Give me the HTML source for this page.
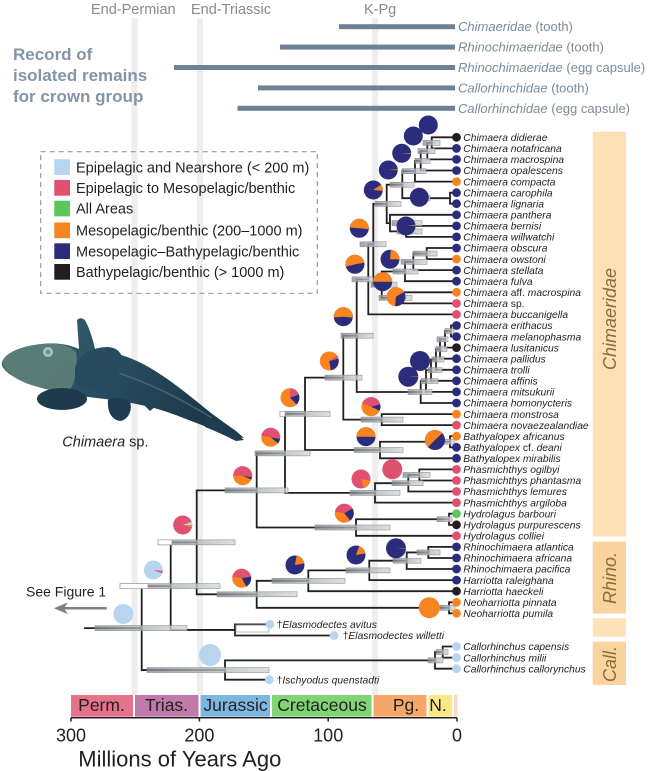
<!DOCTYPE html>
<html><head><meta charset="utf-8"><style>
html,body{margin:0;padding:0;background:#fff;}
svg{display:block;font-family:"Liberation Sans",Arial,sans-serif;}
</style></head><body>
<svg width="649" height="771" viewBox="0 0 649 771" xmlns="http://www.w3.org/2000/svg">
<defs>
<linearGradient id="gb" x1="0" y1="0" x2="1" y2="0">
<stop offset="0" stop-color="#868b90"/><stop offset="0.35" stop-color="#a6aaae"/><stop offset="1" stop-color="#d4d7d9"/>
</linearGradient>
<linearGradient id="fishg" x1="0" y1="0" x2="1" y2="0.4">
<stop offset="0" stop-color="#3c6470"/><stop offset="0.5" stop-color="#2a4f62"/><stop offset="1" stop-color="#1c394b"/>
</linearGradient>
</defs>
<rect width="649" height="771" fill="#fff"/>

<!-- extinction bands -->
<rect x="131.5" y="18" width="6" height="677" fill="#eeeeee"/>
<rect x="197" y="18" width="6" height="677" fill="#eeeeee"/>
<rect x="372" y="18" width="6" height="677" fill="#eeeeee"/>

<!-- top labels -->
<g font-size="14.5" fill="#8a8a8a">
<text x="91" y="14">End-Permian</text>
<text x="191" y="14">End-Triassic</text>
<text x="364" y="14">K-Pg</text>
</g>

<g font-size="17" font-weight="bold" fill="#8296a8">
<text x="13" y="60">Record of</text>
<text x="13" y="81">isolated remains</text>
<text x="13" y="102">for crown group</text>
</g>

<!-- fossil bars -->
<g fill="#6d8294">
<rect x="339" y="24.2" width="116" height="5"/>
<rect x="280" y="44.6" width="175" height="5"/>
<rect x="174" y="65" width="281" height="5"/>
<rect x="258" y="85.4" width="197" height="5"/>
<rect x="237.5" y="105.8" width="217.5" height="5"/>
</g>
<g font-size="13" fill="#7d8b97">
<text x="458" y="31.2"><tspan font-style="italic">Chimaeridae</tspan> (tooth)</text>
<text x="458" y="51.6"><tspan font-style="italic">Rhinochimaeridae</tspan> (tooth)</text>
<text x="458" y="72"><tspan font-style="italic">Rhinochimaeridae</tspan> (egg capsule)</text>
<text x="458" y="92.4"><tspan font-style="italic">Callorhinchidae</tspan> (tooth)</text>
<text x="458" y="112.8"><tspan font-style="italic">Callorhinchidae</tspan> (egg capsule)</text>
</g>

<!-- right clade bars -->
<rect x="592.7" y="131.7" width="33.3" height="404.8" fill="#fde0b6"/>
<rect x="592.7" y="541.7" width="33.3" height="71.8" fill="#fbd39d"/>
<rect x="592.7" y="618.3" width="33.3" height="18.4" fill="#fde2ba"/>
<rect x="592.7" y="641.7" width="33.3" height="43.3" fill="#fbd39d"/>
<g font-size="18" font-style="italic" fill="#8b6b3c" text-anchor="middle">
<text transform="translate(616,319) rotate(-90)">Chimaeridae</text>
<text transform="translate(616,578) rotate(-90)">Rhino.</text>
<text transform="translate(616,664) rotate(-90)">Call.</text>
</g>

<!-- legend -->
<rect x="40.7" y="151.7" width="276.6" height="141.6" fill="none" stroke="#9a9a9a" stroke-width="1.2" stroke-dasharray="5 4"/>
<rect x="54.3" y="159.3" width="15.7" height="15.7" fill="#b7d5ef"/>
<rect x="54.3" y="180" width="15.7" height="15.7" fill="#e0506f"/>
<rect x="54.3" y="200.7" width="15.7" height="15.7" fill="#5dc65b"/>
<rect x="54.3" y="222.5" width="15.7" height="15.7" fill="#f7841f"/>
<rect x="54.3" y="243.3" width="15.7" height="15.7" fill="#2b2d7c"/>
<rect x="54.3" y="264" width="15.7" height="15.7" fill="#231f20"/>
<g font-size="14.5" fill="#231f20">
<text x="76" y="172.3">Epipelagic and Nearshore (&lt; 200 m)</text>
<text x="76" y="193">Epipelagic to Mesopelagic/benthic</text>
<text x="76" y="213.7">All Areas</text>
<text x="76" y="235.5">Mesopelagic/benthic (200–1000 m)</text>
<text x="76" y="256.3">Mesopelagic–Bathypelagic/benthic</text>
<text x="76" y="277">Bathypelagic/benthic (&gt; 1000 m)</text>
</g>

<!-- fish -->
<g>
<path d="M2,362 C6,352 22,346 42,344 C58,342 70,345 79,349 L77,320 C80,317 84,318 86,322 C90,330 93,340 95,349 C112,351 132,357 152,369 C172,381 190,396 206,409 C216,417 226,424 236,431 L244,438 C236,437 228,434 219,431 C205,427 190,420 170,413 C150,406 128,402 105,399 C85,397 62,393 42,388 C26,384 12,377 6,371 C3,368 1,365 2,362 Z" fill="url(#fishg)"/>
<path d="M2,362 C6,352 22,346 42,344 C58,342 70,346 76,352 C78,365 76,380 70,390 C55,391 40,388 28,384 C15,379 6,372 2,362 Z" fill="#5f8279" opacity="0.85"/>
<path d="M95,366 C130,375 170,392 212,418" stroke="#4f7585" stroke-width="1.5" fill="none" opacity="0.7"/>
<ellipse cx="62" cy="399" rx="25" ry="11" fill="#1e3a4d"/>
<path d="M75,368 C78,355 92,347 108,347 C120,348 124,356 122,368 C119,378 108,385 95,389 C86,391 78,388 75,380 Z" fill="#264a5e"/>
<path d="M108,400 C112,397 126,398 130,402 C133,410 128,420 120,421 C112,420 107,412 108,400 Z" fill="#1f3c50"/>
<path d="M140,401 L156,406 L150,411 Z" fill="#22405a"/>
<path d="M205,418 C215,418 225,424 232,430 L244,440 L236,441 C228,437 218,432 205,427 Z" fill="#1f3d52"/>
<circle cx="48" cy="352" r="5" fill="#a3c0c6"/>
<circle cx="48" cy="352" r="2.3" fill="#6f8f99"/>
</g>
<text x="62.3" y="446.7" font-size="14.5" fill="#231f20"><tspan font-style="italic">Chimaera</tspan> sp.</text>

<!-- see figure 1 -->
<text x="26" y="596.7" font-size="14" fill="#231f20">See Figure 1</text>
<line x1="63" y1="608.3" x2="106.7" y2="608.3" stroke="#808080" stroke-width="2.5"/>
<path d="M54,608.3 L68,602.3 L64,608.3 L68,614.3 Z" fill="#808080"/>

<!-- tree branches -->
<path fill="none" stroke="#231f20" stroke-width="1.8" stroke-linecap="square" d="
M431.7 137.3H456.5 M431.7 148.4H456.5 M427.3 159.4H456.5 M420.7 170.5H456.5 M415 181.6H456.5 M450 192.7H456.5 M450 203.7H456.5 M390 214.8H456.5 M406 225.9H456.5 M406 236.9H456.5
M426.7 248H456.5 M426.7 259.1H456.5 M413.3 270.1H456.5 M405 281.2H456.5 M403 292.3H456.5 M403 303.4H456.5 M368.3 314.4H456.5
M451 325.5H456.5 M451 336.6H456.5 M445 347.6H456.5 M440 358.7H456.5 M436 369.8H456.5 M431 380.8H456.5 M426 391.9H456.5 M420.7 403H456.5
M381.7 414.1H456.5 M381.7 425.1H456.5 M450 436.2H456.5 M450 447.3H456.5 M380 458.3H456.5
M419.3 469.4H456.5 M419.3 480.5H456.5 M408.3 491.5H456.5 M375 502.6H456.5
M449 513.7H456.5 M449 524.8H456.5 M356 535.8H456.5
M428.3 546.9H456.5 M428.3 558H456.5 M406.7 569H456.5 M369.3 580.1H456.5 M308.3 591.2H456.5 M449 602.3H456.5 M449 613.3H456.5
M235 624.4H270 M235 635.5H334 M442.7 646.5H456.5 M442.7 657.6H456.5 M435 668.7H456.5 M225 679.7H269.3
M427.3 142.85H431.7 M420.7 151.1H427.3 M415 160.8H420.7 M402.3 171.2H415 M402.3 198.2H450 M386.7 184.7H402.3
M390 231.4H406 M386.7 223.1H390 M373.3 203.9H386.7
M413.3 253.55H426.7 M405 261.8H413.3 M381.7 271.5H405 M381.7 297.85H403 M373.3 284.7H381.7 M368.3 244.3H373.3 M356.7 279.35H368.3
M445 331.05H451 M440 339.3H445 M436 349H440 M431 359.4H436 M426 370.1H431 M420.7 381H426 M356.7 392H420.7
M343.3 335.7H356.7 M343.3 419.6H381.7 M305 377.65H343.3 M380 441.75H450 M305 450H380 M285 413.8H305
M408.3 474.95H419.3 M375 483.2H408.3 M285 492.9H375 M256.7 453.35H285
M356 519.25H449 M256.7 527.5H356 M196.7 490.4H256.7
M406.7 552.45H428.3 M369.3 560.7H406.7 M308.3 570.4H369.3 M256.7 580.8H308.3 M256.7 607.8H449 M196.7 594.3H256.7
M170.7 542.35H196.7 M170.7 629.95H235 M141.7 586.15H170.7
M435 652.05H442.7 M225 660.4H435 M141.7 670.05H225 M85 628.1H141.7
M431.7 137.3V148.4 M427.3 142.85V159.4 M420.7 151.1V170.5 M415 160.8V181.6 M450 192.7V203.7 M402.3 171.2V198.2
M406 225.9V236.9 M390 214.8V231.4 M386.7 184.7V223.1
M426.7 248V259.1 M413.3 253.55V270.1 M405 261.8V281.2 M403 292.3V303.4 M381.7 271.5V297.85 M373.3 203.9V284.7 M368.3 244.3V314.4
M451 325.5V336.6 M445 331.05V347.6 M440 339.3V358.7 M436 349V369.8 M431 359.4V380.8 M426 370.1V391.9 M420.7 381V403
M356.7 279.35V392 M381.7 414.1V425.1 M343.3 335.7V419.6 M450 436.2V447.3 M380 441.75V458.3 M305 377.65V450
M419.3 469.4V480.5 M408.3 474.95V491.5 M375 483.2V502.6 M285 413.8V492.9
M449 513.7V524.8 M356 519.25V535.8 M256.7 453.35V527.5
M428.3 546.9V558 M406.7 552.45V569 M369.3 560.7V580.1 M308.3 570.4V591.2 M449 602.3V613.3 M256.7 580.8V607.8
M196.7 490.4V594.3 M235 624.4V635.5 M170.7 542.35V629.95
M442.7 646.5V657.6 M435 652.05V668.7 M225 660.4V679.7 M141.7 586.15V670.05"/>

<!-- CI bars -->
<g fill="url(#gb)" fill-opacity="0.78" stroke="#8e9397" stroke-width="0.6">
<rect x="95" y="625.6" width="92" height="5"/>
<rect x="120" y="583.65" width="100" height="5"/>
<rect x="158" y="539.85" width="77" height="5"/>
<rect x="147" y="667.55" width="122" height="5"/>
<rect x="217" y="591.8" width="80" height="5"/>
<rect x="272" y="578.3" width="73" height="5"/>
<rect x="346" y="567.9" width="44" height="5"/>
<rect x="393" y="558.2" width="28" height="5"/>
<rect x="417" y="549.95" width="23" height="5"/>
<rect x="440" y="605.3" width="15" height="5"/>
<rect x="315" y="525" width="75" height="5"/>
<rect x="437" y="516.75" width="15" height="5"/>
<rect x="225" y="487.9" width="63" height="5"/>
<rect x="255" y="450.85" width="55" height="5"/>
<rect x="280" y="411.3" width="50" height="5"/>
<rect x="325" y="375.15" width="37" height="5"/>
<rect x="341" y="333.2" width="32" height="5"/>
<rect x="352" y="276.85" width="21" height="5"/>
<rect x="360" y="241.8" width="26" height="5"/>
<rect x="371" y="282.2" width="26" height="5"/>
<rect x="379" y="295.35" width="33" height="5"/>
<rect x="393" y="269" width="25" height="5"/>
<rect x="401" y="259.3" width="26" height="5"/>
<rect x="413" y="251.05" width="24" height="5"/>
<rect x="375" y="201.4" width="26" height="5"/>
<rect x="392" y="220.6" width="30" height="5"/>
<rect x="397" y="228.9" width="25" height="5"/>
<rect x="390" y="182.2" width="24" height="5"/>
<rect x="413" y="195.7" width="17" height="5"/>
<rect x="402" y="168.7" width="24" height="5"/>
<rect x="415" y="158.3" width="15" height="5"/>
<rect x="418" y="148.6" width="17" height="5"/>
<rect x="423" y="140.35" width="17" height="5"/>
<rect x="408" y="389.5" width="24" height="5"/>
<rect x="421" y="378.5" width="17" height="5"/>
<rect x="428" y="367.6" width="14" height="5"/>
<rect x="432" y="356.9" width="12" height="5"/>
<rect x="436" y="346.5" width="11" height="5"/>
<rect x="437" y="336.8" width="11" height="5"/>
<rect x="445" y="328.55" width="9" height="5"/>
<rect x="361" y="417.1" width="42" height="5"/>
<rect x="354" y="447.5" width="49" height="5"/>
<rect x="442" y="439.25" width="13" height="5"/>
<rect x="350" y="490.4" width="50" height="5"/>
<rect x="392" y="480.7" width="31" height="5"/>
<rect x="403" y="472.45" width="27" height="5"/>
<rect x="428" y="657.9" width="15" height="5"/>
<rect x="436" y="649.55" width="12" height="5"/>
</g>
<g fill="#fff" stroke="#9a9ea2" stroke-width="0.7">
<rect x="120" y="583.65" width="28" height="5"/>
<rect x="158" y="539.85" width="14" height="5"/>
<rect x="280" y="411.3" width="5" height="5"/>
<rect x="236" y="625" width="33" height="7" fill="none"/>
</g>

<!-- internal pies -->
<g>
<g transform="translate(428.3 125)"><circle r="9.5" fill="#2b2d7c"/></g>
<g transform="translate(413.3 136)"><circle r="9.5" fill="#2b2d7c"/></g>
<g transform="translate(401.7 153.3)"><circle r="9.5" fill="#2b2d7c"/><circle r="4.75" fill="none" stroke="#f7841f" stroke-width="9.5" stroke-dasharray="0.5 40" transform="rotate(-2)"/></g>
<g transform="translate(388.3 170)"><circle r="9.5" fill="#2b2d7c"/><circle r="4.75" fill="none" stroke="#f7841f" stroke-width="9.5" stroke-dasharray="0.5 40" transform="rotate(-5)"/></g>
<g transform="translate(373.3 190)"><circle r="9.5" fill="#2b2d7c"/><circle r="4.75" fill="none" stroke="#f7841f" stroke-width="9.5" stroke-dasharray="3.32 40" transform="rotate(-35)"/></g>
<g transform="translate(419.3 197.3)"><circle r="9.5" fill="#2b2d7c"/></g>
<g transform="translate(406 226)"><circle r="9.5" fill="#2b2d7c"/><circle r="4.75" fill="none" stroke="#f7841f" stroke-width="9.5" stroke-dasharray="0.41 40" transform="rotate(-5)"/></g>
<g transform="translate(359.3 228.3)"><circle r="9.5" fill="#2b2d7c"/><circle r="4.75" fill="none" stroke="#f7841f" stroke-width="9.5" stroke-dasharray="14.92 40" transform="rotate(185)"/></g>
<g transform="translate(390 259.3)"><circle r="9.5" fill="#2b2d7c"/><circle r="4.75" fill="none" stroke="#f7841f" stroke-width="9.5" stroke-dasharray="7.05 40" transform="rotate(-85)"/></g>
<g transform="translate(355 264.3)"><circle r="9.5" fill="#2b2d7c"/><circle r="4.75" fill="none" stroke="#f7841f" stroke-width="9.5" stroke-dasharray="15.34 40" transform="rotate(165)"/></g>
<g transform="translate(382.7 281.7)"><circle r="9.5" fill="#2b2d7c"/><circle r="4.75" fill="none" stroke="#f7841f" stroke-width="9.5" stroke-dasharray="14.92 40" transform="rotate(180)"/></g>
<g transform="translate(396 296.7)"><circle r="9.5" fill="#f7841f"/><circle r="4.75" fill="none" stroke="#2b2d7c" stroke-width="9.5" stroke-dasharray="10.36 40" transform="rotate(-30)"/></g>
<g transform="translate(343.3 316.7)"><circle r="9.5" fill="#2b2d7c"/><circle r="4.75" fill="none" stroke="#f7841f" stroke-width="9.5" stroke-dasharray="15.75 40" transform="rotate(175)"/></g>
<g transform="translate(329.3 361)"><circle r="9.5" fill="#f7841f"/><circle r="4.75" fill="none" stroke="#2b2d7c" stroke-width="9.5" stroke-dasharray="7.88 40" transform="rotate(-15)"/><circle r="4.75" fill="none" stroke="#e0506f" stroke-width="9.5" stroke-dasharray="1.66 40" transform="rotate(-35)"/></g>
<g transform="translate(420 361)"><circle r="10" fill="#2b2d7c"/></g>
<g transform="translate(408.3 376.7)"><circle r="10" fill="#2b2d7c"/><circle r="5" fill="none" stroke="#f7841f" stroke-width="10" stroke-dasharray="0.35 40" transform="rotate(-2)"/></g>
<g transform="translate(290 397.7)"><circle r="9.5" fill="#f7841f"/><circle r="4.75" fill="none" stroke="#e0506f" stroke-width="9.5" stroke-dasharray="5.8 40" transform="rotate(-90)"/><circle r="4.75" fill="none" stroke="#2b2d7c" stroke-width="9.5" stroke-dasharray="5.39 40" transform="rotate(-20)"/></g>
<g transform="translate(371 406.7)"><circle r="9.5" fill="#f7841f"/><circle r="4.75" fill="none" stroke="#e0506f" stroke-width="9.5" stroke-dasharray="12.02 40" transform="rotate(200)"/><circle r="4.75" fill="none" stroke="#2b2d7c" stroke-width="9.5" stroke-dasharray="3.32 40" transform="rotate(-15)"/></g>
<g transform="translate(366 436.7)"><circle r="9.5" fill="#2b2d7c"/><circle r="4.75" fill="none" stroke="#f7841f" stroke-width="9.5" stroke-dasharray="14.92 40" transform="rotate(180)"/></g>
<g transform="translate(435 440)"><circle r="10" fill="#2b2d7c"/><circle r="5" fill="none" stroke="#f7841f" stroke-width="10" stroke-dasharray="15.71 40" transform="rotate(135)"/></g>
<g transform="translate(270.7 437.3)"><circle r="9.5" fill="#f7841f"/><circle r="4.75" fill="none" stroke="#e0506f" stroke-width="9.5" stroke-dasharray="14.92 40" transform="rotate(190)"/><circle r="4.75" fill="none" stroke="#2b2d7c" stroke-width="9.5" stroke-dasharray="2.49 40" transform="rotate(10)"/></g>
<g transform="translate(392.3 469.3)"><circle r="10" fill="#e0506f"/></g>
<g transform="translate(361 479)"><circle r="9.5" fill="#e0506f"/><circle r="4.75" fill="none" stroke="#f7841f" stroke-width="9.5" stroke-dasharray="4.97 40" transform="rotate(10)"/></g>
<g transform="translate(242.7 475.7)"><circle r="9.5" fill="#f7841f"/><circle r="4.75" fill="none" stroke="#e0506f" stroke-width="9.5" stroke-dasharray="15.75 40" transform="rotate(180)"/><circle r="4.75" fill="none" stroke="#2b2d7c" stroke-width="9.5" stroke-dasharray="1.24 40" transform="rotate(10)"/></g>
<g transform="translate(344.3 513.3)"><circle r="9.5" fill="#f7841f"/><circle r="4.75" fill="none" stroke="#e0506f" stroke-width="9.5" stroke-dasharray="11.61 40" transform="rotate(190)"/><circle r="4.75" fill="none" stroke="#2b2d7c" stroke-width="9.5" stroke-dasharray="6.63 40" transform="rotate(-30)"/></g>
<g transform="translate(182.7 525)"><circle r="9.5" fill="#e0506f"/><circle r="4.75" fill="none" stroke="#b7d5ef" stroke-width="9.5" stroke-dasharray="1.66 40" transform="rotate(-20)"/><circle r="4.75" fill="none" stroke="#f7841f" stroke-width="9.5" stroke-dasharray="1.24 40" transform="rotate(0)"/></g>
<g transform="translate(241.7 578.3)"><circle r="9.5" fill="#f7841f"/><circle r="4.75" fill="none" stroke="#e0506f" stroke-width="9.5" stroke-dasharray="13.26 40" transform="rotate(190)"/><circle r="4.75" fill="none" stroke="#2b2d7c" stroke-width="9.5" stroke-dasharray="5.8 40" transform="rotate(-10)"/></g>
<g transform="translate(295 565)"><circle r="9.5" fill="#2b2d7c"/><circle r="4.75" fill="none" stroke="#f7841f" stroke-width="9.5" stroke-dasharray="5.8 40" transform="rotate(-80)"/></g>
<g transform="translate(356 555)"><circle r="9.5" fill="#2b2d7c"/><circle r="4.75" fill="none" stroke="#f7841f" stroke-width="9.5" stroke-dasharray="4.97 40" transform="rotate(-70)"/></g>
<g transform="translate(396 548.3)"><circle r="10" fill="#2b2d7c"/><circle r="5" fill="none" stroke="#f7841f" stroke-width="10" stroke-dasharray="0.35 40" transform="rotate(-2)"/></g>
<g transform="translate(429.3 607.7)"><circle r="10.5" fill="#f7841f"/></g>
<g transform="translate(153.3 570)"><circle r="9.5" fill="#b7d5ef"/><circle r="4.75" fill="none" stroke="#e0506f" stroke-width="9.5" stroke-dasharray="1.24 40" transform="rotate(5)"/></g>
<g transform="translate(123.3 614)"><circle r="10" fill="#b7d5ef"/></g>
<g transform="translate(210 655)"><circle r="11" fill="#b7d5ef"/></g>
</g>

<!-- tip circles -->
<g>
<circle cx="456.5" cy="137.3" r="4.4" fill="#231f20"/>
<circle cx="456.5" cy="148.4" r="4.4" fill="#2b2d7c"/>
<circle cx="456.5" cy="159.4" r="4.4" fill="#2b2d7c"/>
<circle cx="456.5" cy="170.5" r="4.4" fill="#2b2d7c"/>
<circle cx="456.5" cy="181.6" r="4.4" fill="#f7841f"/>
<circle cx="456.5" cy="192.7" r="4.4" fill="#2b2d7c"/>
<circle cx="456.5" cy="203.7" r="4.4" fill="#2b2d7c"/>
<circle cx="456.5" cy="214.8" r="4.4" fill="#2b2d7c"/>
<circle cx="456.5" cy="225.9" r="4.4" fill="#2b2d7c"/>
<circle cx="456.5" cy="236.9" r="4.4" fill="#2b2d7c"/>
<circle cx="456.5" cy="248" r="4.4" fill="#2b2d7c"/>
<circle cx="456.5" cy="259.1" r="4.4" fill="#f7841f"/>
<circle cx="456.5" cy="270.1" r="4.4" fill="#2b2d7c"/>
<circle cx="456.5" cy="281.2" r="4.4" fill="#2b2d7c"/>
<circle cx="456.5" cy="292.3" r="4.4" fill="#f7841f"/>
<circle cx="456.5" cy="303.4" r="4.4" fill="#e0506f"/>
<circle cx="456.5" cy="314.4" r="4.4" fill="#e0506f"/>
<circle cx="456.5" cy="325.5" r="4.4" fill="#2b2d7c"/>
<circle cx="456.5" cy="336.6" r="4.4" fill="#2b2d7c"/>
<circle cx="456.5" cy="347.6" r="4.4" fill="#231f20"/>
<circle cx="456.5" cy="358.7" r="4.4" fill="#2b2d7c"/>
<circle cx="456.5" cy="369.8" r="4.4" fill="#2b2d7c"/>
<circle cx="456.5" cy="380.8" r="4.4" fill="#2b2d7c"/>
<circle cx="456.5" cy="391.9" r="4.4" fill="#2b2d7c"/>
<circle cx="456.5" cy="403" r="4.4" fill="#2b2d7c"/>
<circle cx="456.5" cy="414.1" r="4.4" fill="#f7841f"/>
<circle cx="456.5" cy="425.1" r="4.4" fill="#e0506f"/>
<circle cx="456.5" cy="436.2" r="4.4" fill="#f7841f"/>
<circle cx="456.5" cy="447.3" r="4.4" fill="#2b2d7c"/>
<circle cx="456.5" cy="458.3" r="4.4" fill="#2b2d7c"/>
<circle cx="456.5" cy="469.4" r="4.4" fill="#e0506f"/>
<circle cx="456.5" cy="480.5" r="4.4" fill="#e0506f"/>
<circle cx="456.5" cy="491.5" r="4.4" fill="#e0506f"/>
<circle cx="456.5" cy="502.6" r="4.4" fill="#e0506f"/>
<circle cx="456.5" cy="513.7" r="4.4" fill="#5dc65b"/>
<circle cx="456.5" cy="524.8" r="4.4" fill="#231f20"/>
<circle cx="456.5" cy="535.8" r="4.4" fill="#e0506f"/>
<circle cx="456.5" cy="546.9" r="4.4" fill="#2b2d7c"/>
<circle cx="456.5" cy="558" r="4.4" fill="#2b2d7c"/>
<circle cx="456.5" cy="569" r="4.4" fill="#2b2d7c"/>
<circle cx="456.5" cy="580.1" r="4.4" fill="#2b2d7c"/>
<circle cx="456.5" cy="591.2" r="4.4" fill="#231f20"/>
<circle cx="456.5" cy="602.3" r="4.4" fill="#f7841f"/>
<circle cx="456.5" cy="613.3" r="4.4" fill="#f7841f"/>
<circle cx="270" cy="624.4" r="4.4" fill="#b7d5ef"/>
<circle cx="334" cy="635.5" r="4.4" fill="#b7d5ef"/>
<circle cx="456.5" cy="646.5" r="4.4" fill="#b7d5ef"/>
<circle cx="456.5" cy="657.6" r="4.4" fill="#b7d5ef"/>
<circle cx="456.5" cy="668.7" r="4.4" fill="#b7d5ef"/>
<circle cx="269.3" cy="679.7" r="4.4" fill="#b7d5ef"/>
</g>

<!-- tip labels -->
<g font-size="10.3" font-style="italic" fill="#231f20">
<text x="463.3" y="141">Chimaera didierae</text>
<text x="463.3" y="152.1">Chimaera notafricana</text>
<text x="463.3" y="163.1">Chimaera macrospina</text>
<text x="463.3" y="174.2">Chimaera opalescens</text>
<text x="463.3" y="185.3">Chimaera compacta</text>
<text x="463.3" y="196.4">Chimaera carophila</text>
<text x="463.3" y="207.4">Chimaera lignaria</text>
<text x="463.3" y="218.5">Chimaera panthera</text>
<text x="463.3" y="229.6">Chimaera bernisi</text>
<text x="463.3" y="240.6">Chimaera willwatchi</text>
<text x="463.3" y="251.7">Chimaera obscura</text>
<text x="463.3" y="262.8">Chimaera owstoni</text>
<text x="463.3" y="273.8">Chimaera stellata</text>
<text x="463.3" y="284.9">Chimaera fulva</text>
<text x="463.3" y="296">Chimaera <tspan font-style="normal">aff.</tspan> macrospina</text>
<text x="463.3" y="307.1">Chimaera <tspan font-style="normal">sp.</tspan></text>
<text x="463.3" y="318.1">Chimaera buccanigella</text>
<text x="463.3" y="329.2">Chimaera erithacus</text>
<text x="463.3" y="340.3">Chimaera melanophasma</text>
<text x="463.3" y="351.3">Chimaera lusitanicus</text>
<text x="463.3" y="362.4">Chimaera pallidus</text>
<text x="463.3" y="373.5">Chimaera trolli</text>
<text x="463.3" y="384.5">Chimaera affinis</text>
<text x="463.3" y="395.6">Chimaera mitsukurii</text>
<text x="463.3" y="406.7">Chimaera homonycteris</text>
<text x="463.3" y="417.8">Chimaera monstrosa</text>
<text x="463.3" y="428.8">Chimaera novaezealandiae</text>
<text x="463.3" y="439.9">Bathyalopex africanus</text>
<text x="463.3" y="451">Bathyalopex <tspan font-style="normal">cf.</tspan> deani</text>
<text x="463.3" y="462">Bathyalopex mirabilis</text>
<text x="463.3" y="473.1">Phasmichthys ogilbyi</text>
<text x="463.3" y="484.2">Phasmichthys phantasma</text>
<text x="463.3" y="495.2">Phasmichthys lemures</text>
<text x="463.3" y="506.3">Phasmichthys argiloba</text>
<text x="463.3" y="517.4">Hydrolagus barbouri</text>
<text x="463.3" y="528.5">Hydrolagus purpurescens</text>
<text x="463.3" y="539.5">Hydrolagus colliei</text>
<text x="463.3" y="550.6">Rhinochimaera atlantica</text>
<text x="463.3" y="561.7">Rhinochimaera africana</text>
<text x="463.3" y="572.7">Rhinochimaera pacifica</text>
<text x="463.3" y="583.8">Harriotta raleighana</text>
<text x="463.3" y="594.9">Harriotta haeckeli</text>
<text x="463.3" y="606">Neoharriotta pinnata</text>
<text x="463.3" y="617">Neoharriotta pumila</text>
<text x="276.7" y="628.1"><tspan font-style="normal">†</tspan>Elasmodectes avitus</text>
<text x="342.7" y="639.2"><tspan font-style="normal">†</tspan>Elasmodectes willetti</text>
<text x="463.3" y="650.2">Callorhinchus capensis</text>
<text x="463.3" y="661.3">Callorhinchus milii</text>
<text x="463.3" y="672.4">Callorhinchus callorynchus</text>
<text x="276.7" y="683.4"><tspan font-style="normal">†</tspan>Ischyodus quenstadti</text>
</g>

<!-- periods -->
<rect x="71" y="695" width="62" height="21.7" fill="#e4728a"/>
<rect x="135" y="695" width="63.5" height="21.7" fill="#c07aaa"/>
<rect x="200.5" y="695" width="69.5" height="21.7" fill="#7cb7e1"/>
<rect x="272" y="695" width="99.5" height="21.7" fill="#80d474"/>
<rect x="373.5" y="695" width="53" height="21.7" fill="#f6a86a"/>
<rect x="428.5" y="695" width="23.5" height="21.7" fill="#fde887"/>
<rect x="454" y="695" width="3.5" height="21.7" fill="#fbd8c7"/>
<g font-size="17.5" fill="#231f20" text-anchor="middle">
<text x="101.5" y="711">Perm.</text>
<text x="166.5" y="711">Trias.</text>
<text x="235.5" y="711">Jurassic</text>
<text x="322" y="711">Cretaceous</text>
<text x="406" y="711">Pg.</text>
<text x="438" y="711">N.</text>
</g>

<!-- axis -->
<path d="M71 717.7H457 M71 717.7V721.5 M199.4 717.7V721.5 M328.2 717.7V721.5 M457 717.7V721.5" stroke="#231f20" stroke-width="1.5" fill="none"/>
<g font-size="18" fill="#231f20" text-anchor="middle">
<text x="71" y="741.7">300</text>
<text x="199.4" y="741.7">200</text>
<text x="328.2" y="741.7">100</text>
<text x="457" y="741.7">0</text>
</g>
<text x="78.3" y="766.7" font-size="22" fill="#231f20">Millions of Years Ago</text>
</svg>
</body></html>
